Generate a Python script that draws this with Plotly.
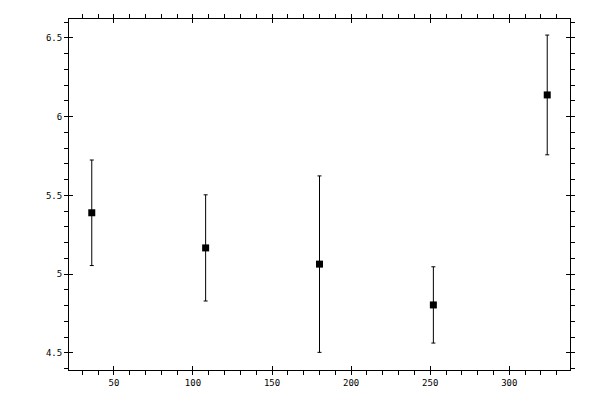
import plotly.graph_objects as go

x_vals = [36, 108, 180, 252, 324]
y_vals = [5.39, 5.167, 5.064, 4.805, 6.138]
y_err = [0.335, 0.337, 0.56, 0.242, 0.38]

x_range = [21.6, 338.4]
y_range = [4.392, 6.62]

fig = go.Figure()
fig.add_trace(go.Scatter(
    x=x_vals, y=y_vals, mode="markers",
    marker=dict(symbol="square", size=7, color="black"),
    error_y=dict(type="data", array=y_err, visible=True, color="black", thickness=1, width=2),
    showlegend=False,
))
fig.add_trace(go.Scatter(x=[], y=[], xaxis="x2", yaxis="y2", showlegend=False))

font = dict(family="DejaVu Sans Mono", size=9, color="black")
common = dict(showgrid=False, zeroline=False, linecolor="black", linewidth=1,
              tickcolor="black", tickwidth=1, automargin=False)

fig.update_layout(
    width=600, height=400,
    margin=dict(l=61, r=38, t=11, b=38),
    paper_bgcolor="white", plot_bgcolor="white",
    font=font,
    xaxis=dict(range=x_range, dtick=50, tick0=0, ticks="outside", ticklen=4,
               showline=True, mirror="ticks",
               minor=dict(dtick=10, tick0=0, ticks="outside", ticklen=4, tickcolor="black"),
               **common),
    yaxis=dict(range=y_range, dtick=0.5, tick0=0, ticks="outside", ticklen=4,
               showline=True, mirror="ticks",
               minor=dict(dtick=0.1, tick0=0, ticks="outside", ticklen=4, tickcolor="black"),
               **common),
    xaxis2=dict(range=x_range, dtick=50, tick0=0, ticks="inside", ticklen=4,
                showline=False, mirror="ticks", showticklabels=False,
                overlaying="x", **common),
    yaxis2=dict(range=y_range, dtick=0.5, tick0=0, ticks="inside", ticklen=4,
                showline=False, mirror="ticks", showticklabels=False,
                overlaying="y", **common),
)

fig.write_html("out.html")
